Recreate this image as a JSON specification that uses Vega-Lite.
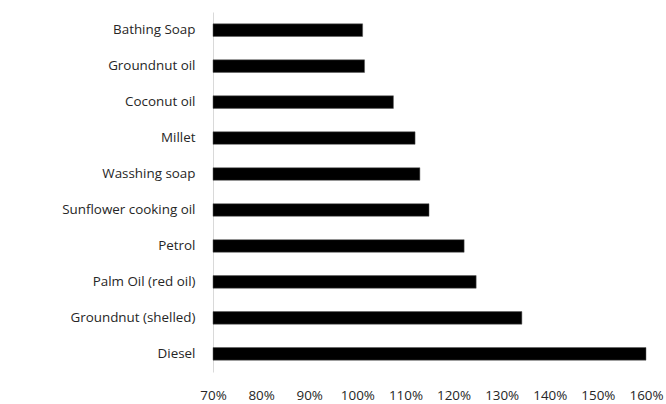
{
  "$schema": "https://vega.github.io/schema/vega-lite/v6.json",
  "width": 433,
  "height": 360,
  "autosize": "none",
  "padding": {"left": 213, "top": 12, "right": 20, "bottom": 32},
  "background": "white",
  "config": {
    "view": {"stroke": null},
    "font": "Open Sans"
  },
  "data": {
    "values": [
      {"item": "Bathing Soap", "value": 101.1},
      {"item": "Groundnut oil", "value": 101.5},
      {"item": "Coconut oil", "value": 107.5},
      {"item": "Millet ", "value": 112.0},
      {"item": "Wasshing soap", "value": 113.0},
      {"item": "Sunflower cooking oil", "value": 114.9},
      {"item": "Petrol", "value": 122.2},
      {"item": "Palm Oil (red oil)", "value": 124.7},
      {"item": "Groundnut (shelled)", "value": 134.2},
      {"item": "Diesel", "value": 160.0}
    ]
  },
  "mark": {"type": "bar", "color": "#000000", "stroke": "#595959", "strokeWidth": 0.5},
  "encoding": {
    "y": {
      "field": "item",
      "type": "nominal",
      "sort": null,
      "scale": {"paddingInner": 0.65, "paddingOuter": 0.33},
      "axis": {
        "title": null,
        "ticks": false,
        "domainColor": "#d9d9d9",
        "domainWidth": 1,
        "labelFont": "Open Sans",
        "labelFontSize": 13.4,
        "labelColor": "#262626",
        "labelPadding": 18,
        "labelLimit": 300
      }
    },
    "x": {
      "field": "value",
      "type": "quantitative",
      "scale": {"domain": [70, 160], "zero": false, "nice": false},
      "axis": {
        "title": null,
        "values": [70, 80, 90, 100, 110, 120, 130, 140, 150, 160],
        "labelExpr": "datum.value + '%'",
        "domain": false,
        "ticks": false,
        "grid": false,
        "labelFont": "Open Sans",
        "labelFontSize": 13.4,
        "labelColor": "#262626",
        "labelPadding": 16,
        "labelFlush": false,
        "labelOverlap": false
      }
    },
    "x2": {"datum": 70}
  }
}
